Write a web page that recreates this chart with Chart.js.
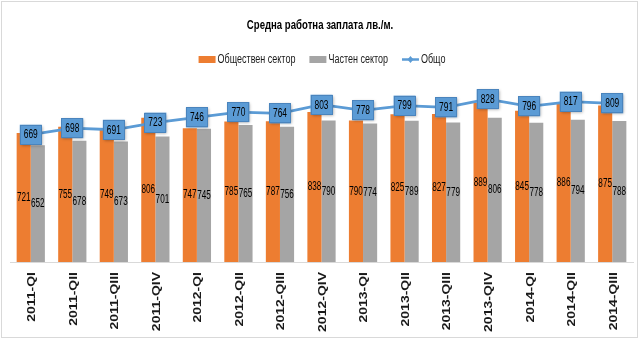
<!DOCTYPE html>
<html>
<head>
<meta charset="utf-8">
<script src="https://cdn.jsdelivr.net/npm/chart.js@4.4.0/dist/chart.umd.min.js"></script>
<style>
  html, body { margin: 0; padding: 0; background: #fff; }
</style>
</head>
<body>
<canvas id="chart" width="640" height="340"></canvas>
<script>
const quarters = ['2011-QI', '2011-QII', '2011-QIII', '2011-QIV', '2012-QI', '2012-QII', '2012-QIII', '2012-QIV',
                  '2013-QI', '2013-QII', '2013-QIII', '2013-QIV', '2014-QI', '2014-QII', '2014-QIII']
const publicSector = [721, 755, 749, 806, 747, 785, 787, 838, 790, 825, 827, 889, 845, 886, 875]
const privateSector = [652, 678, 673, 701, 745, 765, 756, 790, 774, 789, 779, 806, 778, 794, 788]
const overall = [669, 698, 691, 723, 746, 770, 764, 803, 778, 799, 791, 828, 796, 817, 809]

const chartTitle = 'Средна работна заплата лв./м.'
const font = '"Liberation Sans", Arial, sans-serif'
const orange = '#ed7d31'
const gray = '#a5a5a5'
const blue = '#5b9bd5'
const textColor = '#1a1a1a'

// text squeezed horizontally, the fonts here are wider than the original condensed face
function squeezed(ctx, text, x, y, sx) {
    ctx.save()
    ctx.translate(x, y)
    ctx.scale(sx, 1)
    ctx.fillText(text, 0, 0)
    ctx.restore()
}

const frame = {
    id: 'frame',
    afterDraw(chart) {
        const ctx = chart.ctx
        ctx.save()
        ctx.strokeStyle = '#d9d9d9'
        ctx.lineWidth = 1
        ctx.strokeRect(1.5, 1.5, 636, 336)
        ctx.restore()
    }
}

// title and legend drawn by hand so the text can be condensed
const header = {
    id: 'header',
    afterDraw(chart) {
        const ctx = chart.ctx
        ctx.save()
        ctx.fillStyle = '#000'
        ctx.textAlign = 'center'
        ctx.textBaseline = 'middle'
        ctx.font = 'bold 12px ' + font
        squeezed(ctx, chartTitle, 320, 26, 0.8)

        const sx = 0.72
        ctx.font = '12.5px ' + font
        ctx.textAlign = 'left'
        const items = [
            {text: chart.data.datasets[1].label, color: orange, kind: 'box'},
            {text: chart.data.datasets[2].label, color: gray, kind: 'box'},
            {text: chart.data.datasets[0].label, color: blue, kind: 'line'}
        ]
        const symW = 17, gap = 2, itemGap = 14
        let total = 0
        items.forEach((it, i) => {
            it.w = ctx.measureText(it.text).width * sx
            total += symW + gap + it.w + (i ? itemGap : 0)
        })
        let x = 322 - total / 2
        const y = 59.5
        items.forEach(it => {
            if (it.kind === 'box') {
                ctx.fillStyle = it.color
                ctx.fillRect(x, y - 3.5, symW, 7)
            } else {
                ctx.strokeStyle = it.color
                ctx.lineWidth = 2.5
                ctx.beginPath()
                ctx.moveTo(x, y)
                ctx.lineTo(x + symW, y)
                ctx.stroke()
                ctx.fillStyle = it.color
                ctx.beginPath()
                ctx.moveTo(x + symW / 2, y - 3.5)
                ctx.lineTo(x + symW / 2 + 3, y)
                ctx.lineTo(x + symW / 2, y + 3.5)
                ctx.lineTo(x + symW / 2 - 3, y)
                ctx.closePath()
                ctx.fill()
            }
            ctx.fillStyle = textColor
            squeezed(ctx, it.text, x + symW + gap, y, sx)
            x += symW + gap + it.w + itemGap
        })
        ctx.restore()
    }
}

// rotated category labels under the axis
const categoryLabels = {
    id: 'categoryLabels',
    afterDraw(chart) {
        const ctx = chart.ctx
        const xs = chart.scales.x
        ctx.save()
        ctx.fillStyle = textColor
        ctx.font = 'bold 14px ' + font
        ctx.textAlign = 'right'
        ctx.textBaseline = 'middle'
        chart.data.labels.forEach((lbl, i) => {
            ctx.save()
            ctx.translate(xs.getPixelForTick(i) + 1.5, xs.top + 10)
            ctx.rotate(-Math.PI / 2)
            ctx.scale(1, 0.75)
            ctx.fillText(lbl, 0, 0)
            ctx.restore()
        })
        ctx.restore()
    }
}

const valueLabels = {
    id: 'valueLabels',
    afterDatasetsDraw(chart) {
        const ctx = chart.ctx
        ctx.save()
        ctx.font = '12px ' + font
        ctx.textAlign = 'center'
        ctx.textBaseline = 'middle'
        chart.data.datasets.forEach((ds, i) => {
            const meta = chart.getDatasetMeta(i)
            meta.data.forEach((el, j) => {
                const v = ds.data[j]
                if (ds.type === 'line') {
                    const w = 22, h = 20
                    ctx.save()
                    ctx.shadowColor = 'rgba(0, 0, 0, 0.35)'
                    ctx.shadowBlur = 3
                    ctx.shadowOffsetX = 1
                    ctx.shadowOffsetY = 1
                    ctx.fillStyle = blue
                    ctx.fillRect(el.x - w / 2, el.y - h / 2, w, h)
                    ctx.restore()
                    ctx.strokeStyle = '#4a84bd'
                    ctx.lineWidth = 1
                    ctx.strokeRect(Math.round(el.x - w / 2) + 0.5, Math.round(el.y - h / 2) + 0.5, w - 1, h - 1)
                    ctx.fillStyle = '#000'
                    squeezed(ctx, v, el.x, el.y + 0.5, 0.7)
                } else {
                    ctx.fillStyle = '#000'
                    squeezed(ctx, v, el.x, (el.y + el.base) / 2, 0.68)
                }
            })
        })
        ctx.restore()
    }
}

const ctx = document.getElementById('chart').getContext('2d')
const chart = new Chart(ctx, {
    type: 'bar',
    data: {
        labels: quarters,
        datasets: [{
            type: 'line',
            label: 'Общо',
            data: overall,
            yAxisID: 'y1',
            borderColor: blue,
            backgroundColor: blue,
            borderWidth: 2.8,
            pointRadius: 0,
            order: 0
        }, {
            label: 'Обществен сектор',
            data: publicSector,
            backgroundColor: orange,
            categoryPercentage: 0.68,
            barPercentage: 1,
            order: 1
        }, {
            label: 'Частен сектор',
            data: privateSector,
            backgroundColor: gray,
            categoryPercentage: 0.68,
            barPercentage: 1,
            order: 1
        }]
    },
    options: {
        responsive: false,
        animation: false,
        layout: {
            padding: {left: 10, right: 7, top: 83, bottom: 0}
        },
        scales: {
            x: {
                grid: {display: false},
                border: {display: true, color: '#d9d9d9', width: 1},
                ticks: {display: false},
                afterFit(scale) {
                    scale.height = 78
                }
            },
            y: {
                display: false,
                min: 0,
                max: 1000
            },
            y1: {
                display: false,
                position: 'right',
                min: 100,
                max: 900
            }
        },
        plugins: {
            title: {display: false},
            legend: {display: false},
            tooltip: {enabled: false}
        }
    },
    plugins: [valueLabels, categoryLabels, header, frame]
})
</script>
</body>
</html>
